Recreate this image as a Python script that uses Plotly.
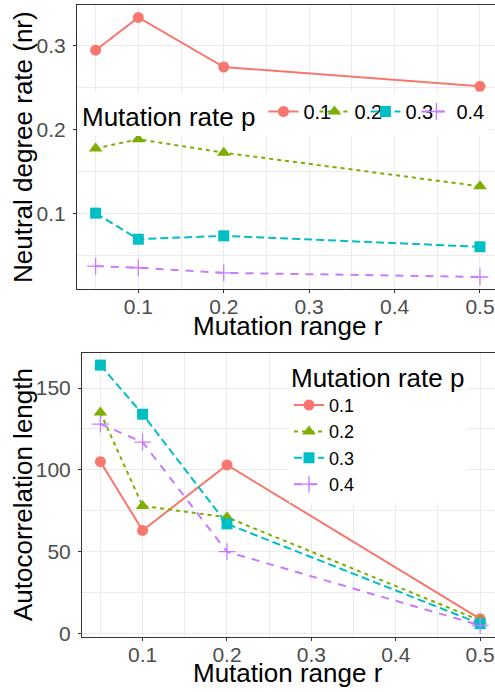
import plotly.graph_objects as go

# ---------------- data ----------------
r_vals = [0.05, 0.1, 0.2, 0.5]
p_labels = ["0.1", "0.2", "0.3", "0.4"]

nr_p01 = [0.295, 0.334, 0.275, 0.252]
nr_p02 = [0.178, 0.189, 0.173, 0.133]
nr_p03 = [0.101, 0.070, 0.074, 0.061]
nr_p04 = [0.038, 0.036, 0.030, 0.025]

ac_p01 = [105, 63, 103, 9]
ac_p02 = [135, 78, 71, 8]
ac_p03 = [164, 134, 67, 6]
ac_p04 = [128, 117, 50, 5]

nr_series = [nr_p01, nr_p02, nr_p03, nr_p04]
ac_series = [ac_p01, ac_p02, ac_p03, ac_p04]

# ---------------- style ----------------
colors = ["#F8766D", "#7CAE00", "#00BFC4", "#C77CFF"]
symbols = ["circle", "triangle-up", "square", "cross-thin"]
msizes = [11, 12, 11, 12]
dashes = ["solid", "4px,4px", "8px,4px", "8px,7px"]
top_legend_widths = [6, 6, 6, 27]
FONT = "Liberation Sans, Arial, sans-serif"
W, H = 495, 692

fig = go.Figure()


def add_series(xs, ys, i, xa, ya, leg, lw=None):
    fig.add_trace(go.Scatter(
        x=xs, y=ys, mode="lines+markers", name=p_labels[i],
        xaxis=xa, yaxis=ya, legend=leg, legendwidth=lw,
        line=dict(color=colors[i], width=2, dash=dashes[i]),
        marker=dict(symbol=symbols[i], size=msizes[i], color=colors[i],
                    line=dict(color=colors[i], width=1.3 if i == 3 else 0)),
    ))


for i in range(4):
    add_series(r_vals, nr_series[i], i, "x", "y", "legend", top_legend_widths[i])
for i in range(4):
    add_series(r_vals, ac_series[i], i, "x2", "y2", "legend2")

grid = "#EBEBEB"
axis_common = dict(
    showline=True, linecolor="#333333", linewidth=1,
    ticks="outside", ticklen=3, tickcolor="#333333", tickwidth=1,
    tickfont=dict(family=FONT, size=21, color="#4D4D4D"),
    showgrid=True, gridcolor=grid, gridwidth=1.2, zeroline=False,
)

xr = [0.0282, 0.5176]

fig.update_layout(
    width=W, height=H,
    margin=dict(l=0, r=0, t=0, b=0, autoexpand=False),
    paper_bgcolor="white", plot_bgcolor="white",
    font=dict(family=FONT, color="black"),
    xaxis=dict(**axis_common, domain=[77 / W, 1], range=xr, anchor="y",
               dtick=0.1, tick0=0, mirror=True, ticklabelstandoff=-4,
               minor=dict(dtick=0.05, tick0=0, showgrid=True, gridcolor=grid, gridwidth=0.6)),
    yaxis=dict(**axis_common, domain=[1 - 289 / H, 1 - 5 / H], range=[0.0107, 0.3488],
               anchor="x", dtick=0.1, tick0=0, ticklabelstandoff=3,
               minor=dict(dtick=0.05, tick0=0, showgrid=True, gridcolor=grid, gridwidth=0.6)),
    xaxis2=dict(**axis_common, domain=[82 / W, 1], range=xr, anchor="y2",
                dtick=0.1, tick0=0, mirror=True, ticklabelstandoff=-4,
                minor=dict(dtick=0.05, tick0=0, showgrid=True, gridcolor=grid, gridwidth=0.6)),
    yaxis2=dict(**axis_common, domain=[1 - 637 / H, 1 - 353 / H], range=[-2.1, 171.4],
                anchor="x2", dtick=50, tick0=0, ticklabelstandoff=3,
                minor=dict(dtick=25, tick0=0, showgrid=True, gridcolor=grid, gridwidth=0.6)),
    legend=dict(
        orientation="h", x=80 / W, xanchor="left", y=1 - 92 / H, yanchor="top",
        title=dict(text="Mutation rate p", font=dict(family=FONT, size=26, color="black")),
        font=dict(family=FONT, size=20, color="black"),
        bgcolor="white", itemwidth=30, entrywidth=6,
    ),
    legend2=dict(
        orientation="v", x=289 / W, xanchor="left", y=1 - 353 / H, yanchor="top",
        title=dict(text="Mutation rate p", font=dict(family=FONT, size=26, color="black")),
        font=dict(family=FONT, size=18, color="black"),
        bgcolor="white", itemwidth=30,
    ),
    annotations=[
        dict(text="Neutral degree rate (nr)", x=23 / W, y=1 - 147 / H, xref="paper", yref="paper",
             showarrow=False, textangle=-90, font=dict(family=FONT, size=26, color="black"),
             xanchor="center", yanchor="middle"),
        dict(text="Mutation range r", x=287.5 / W, y=1 - 326 / H, xref="paper", yref="paper",
             showarrow=False, font=dict(family=FONT, size=26, color="black"),
             xanchor="center", yanchor="middle"),
        dict(text="Autocorrelation length", x=23 / W, y=1 - 495 / H, xref="paper", yref="paper",
             showarrow=False, textangle=-90, font=dict(family=FONT, size=26, color="black"),
             xanchor="center", yanchor="middle"),
        dict(text="Mutation range r", x=287.5 / W, y=1 - 673 / H, xref="paper", yref="paper",
             showarrow=False, font=dict(family=FONT, size=26, color="black"),
             xanchor="center", yanchor="middle"),
    ],
)

fig.write_html("out.html")
